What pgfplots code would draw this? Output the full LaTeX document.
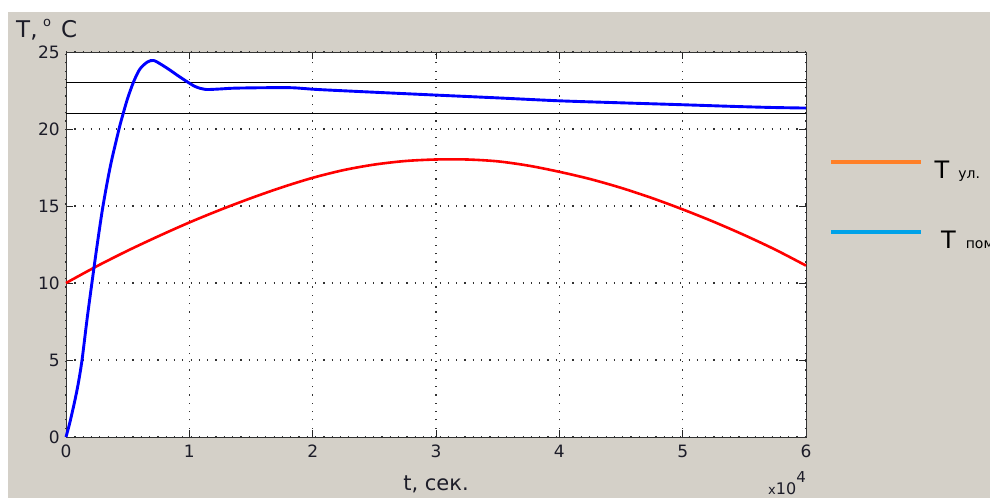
\documentclass[border=0pt]{standalone}
\usepackage{fontspec}
\setmainfont{DejaVu Sans}
\usepackage{pgfplots}
\pgfplotsset{compat=1.18}
\definecolor{panel}{RGB}{212,208,200}
\definecolor{legorange}{RGB}{255,127,39}
\definecolor{legblue}{RGB}{0,162,232}
\definecolor{ink}{RGB}{28,28,40}
\definecolor{gridc}{RGB}{50,50,50}

\begin{document}
\begin{tikzpicture}[x=1pt,y=1pt]
\fill[white] (0,0) rectangle (990,498);
\fill[panel] (8,0) rectangle (990,486);

% axis title above the y axis
\node[anchor=base west, inner sep=0, text=ink, font=\fontsize{23}{23}\selectfont] at (16,460.7) {T,};
\node[anchor=base west, inner sep=0, text=ink, font=\fontsize{13}{13}\selectfont] at (43,471.5) {o};
\node[anchor=base west, inner sep=0, text=ink, font=\fontsize{23}{23}\selectfont] at (61,460.7) {C};

\begin{axis}[
  at={(66pt,61pt)}, anchor=origin,
  scale only axis, width=740pt, height=385pt,
  xmin=0, xmax=60000, ymin=0, ymax=25,
  xtick={0,10000,20000,30000,40000,50000,60000},
  xticklabels={0,1,2,3,4,5,6},
  scaled x ticks=false,
  ytick={0,5,10,15,20,25},
  /pgf/number format/assume math mode=true,
  tick label style={text=ink, font=\fontsize{17}{17}\selectfont, inner sep=0pt},
  xticklabel style={yshift=-8pt},
  yticklabel style={xshift=-6pt},
  tick align=inside, major tick length=7pt,
  tick style={black!85, line width=0.8pt},
  axis line style={black!80, line width=0.9pt},
  grid=major,
  major grid style={gridc, line width=1.1pt, dash pattern=on 1.2pt off 7.1pt},
  axis background/.style={fill=white},
  xlabel={t, сек.},
  xlabel style={at={(rel axis cs:0.5,0)}, anchor=base, yshift=-53pt,
     inner sep=0pt, text=ink, font=\fontsize{21}{21}\selectfont},
  legend style={at={(rel axis cs:1.031,0.719)}, anchor=north west,
     draw=none, fill=none, inner sep=0pt, row sep=50pt,
     font=\fontsize{24}{24}\selectfont, text=black,
     nodes={inner sep=0pt}},
  legend cell align=left,
  legend image code/.code={\draw[#1] (0pt,8.5pt) -- (90pt,8.5pt);},
  clip=false,
]
% comfort band limits
\addplot[black, line width=1.1pt, forget plot] coordinates {(0,23) (60000,23)};
\addplot[black, line width=1.1pt, forget plot] coordinates {(0,21) (60000,21)};

% outdoor temperature
\addplot[red, line width=2.6pt, smooth, forget plot] table {
0     10.00
2500  11.09
5000  12.10
7500  13.04
10000 13.93
12500 14.75
15000 15.51
17500 16.21
20000 16.83
22500 17.33
25000 17.69
27500 17.92
30000 18.02
32500 18.02
35000 17.90
37500 17.62
40000 17.22
42500 16.75
45000 16.18
47500 15.52
50000 14.78
52500 13.98
55000 13.11
57500 12.17
60000 11.13
};

% room temperature
\addplot[blue, line width=2.9pt, smooth, tension=0.5, forget plot] table {
0     0.00
300   0.90
700   2.30
1000  3.50
1300  5.00
1700  7.60
2100  10.00
2550  12.60
3000  15.00
3600  17.60
4300  20.00
4600  20.90
5000  22.00
5500  23.10
6000  23.90
6600  24.35
7100  24.45
7700  24.20
8400  23.84
9100  23.45
9800  23.08
10500 22.75
11300 22.57
12500 22.60
13600 22.65
16000 22.68
18300 22.68
20300 22.57
23600 22.44
29500 22.22
35000 22.02
40000 21.83
45000 21.70
49800 21.58
54000 21.47
57100 21.40
60000 21.36
};

\addlegendimage{legorange, line width=4pt}
\addlegendentry{\hspace{11.5pt}T\hspace{9pt}{\fontsize{14}{14}\selectfont ул.}}
\addlegendimage{legblue, line width=4pt}
\addlegendentry{\hspace{18pt}T\hspace{10pt}{\fontsize{14}{14}\selectfont пом}}

% exponent of the time axis
\node[anchor=base east, inner sep=0pt, text=ink, font=\fontsize{16}{16}\selectfont]
  at (rel axis cs:1,0) [yshift=-57.5pt] {{\fontsize{13}{13}\selectfont x}10\raisebox{12pt}{\fontsize{15}{15}\selectfont 4}};
\end{axis}
% the page is exactly the grey window
\pgfresetboundingbox
\path[use as bounding box] (0,0) rectangle (990,498);
\end{tikzpicture}
\end{document}
